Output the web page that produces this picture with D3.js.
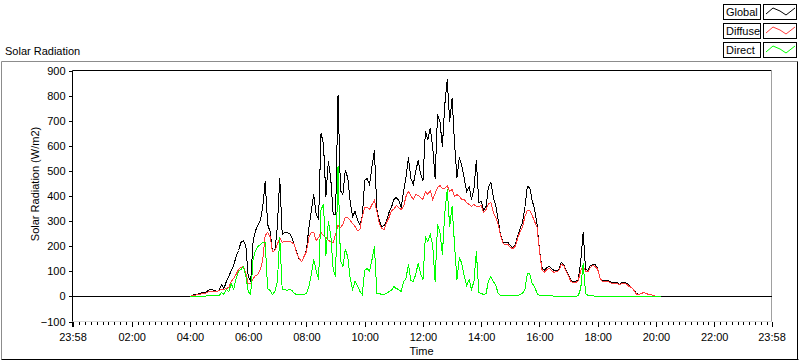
<!DOCTYPE html>
<html>
<head>
<meta charset="utf-8">
<script src="https://cdn.jsdelivr.net/npm/d3@7"></script>
<style>
  html, body { margin: 0; padding: 0; background: #ffffff; }
  svg { display: block; }
  text { font-family: "Liberation Sans", Arial, sans-serif; font-size: 11px; fill: #000; }
</style>
</head>
<body>
<svg id="chart" width="800" height="361"></svg>
<script>
// ---------------- DATA ----------------
const chartTitle = "Solar Radiation";
const yAxisTitle = "Solar Radiation (W/m2)";
const xAxisTitle = "Time";
const seriesNames = ["Global", "Diffuse", "Direct"];

// sampling of the daytime record: every 5 minutes starting 04:00
const startTime = "04:00";
const stepMinutes = 5;

const globalValues = [
  2,5,8,10,12,16,18,22,30,28,24,22,                         // 04:00
  26,50,32,60,80,105,125,160,185,215,225,205,               // 05:00
  80,60,220,265,285,305,360,460,290,260,180,185,            // 06:00
  280,470,250,255,256,252,238,208,175,150,140,160,          // 07:00
  190,276,345,409,330,310,650,610,400,540,470,330,          // 08:00
  330,801,423,409,505,476,380,320,340,310,288,320,          // 09:00
  462,470,449,520,582,350,305,280,285,303,335,356,          // 10:00
  388,396,385,356,420,476,555,470,449,500,542,490,          // 11:00
  462,660,629,670,600,470,728,700,600,768,868,700,          // 12:00
  789,610,476,556,525,470,420,440,390,430,545,376,          // 13:00
  380,343,360,440,456,398,365,305,245,215,217,215,          // 14:00
  203,197,208,240,272,295,355,440,436,383,350,290,          // 15:00
  190,117,106,118,120,112,104,106,110,138,130,105,          // 16:00
  84,66,61,62,70,140,255,110,105,124,130,128,               // 17:00
  115,75,66,64,64,62,57,57,57,51,57,57,                     // 18:00
  52,44,38,27,12,8,12,17,15,11,8,6,                         // 19:00
  3,1,0                                                     // 20:00
];
const diffuseValues = [
  2,4,6,8,10,12,14,17,21,22,22,22,
  24,28,31,35,37,60,75,90,108,118,122,95,
  55,55,75,85,90,110,150,245,255,240,182,185,
  210,237,217,221,221,222,215,208,172,152,142,160,
  180,237,255,255,225,237,255,245,237,225,220,217,
  250,283,276,290,316,316,305,292,280,265,268,320,
  356,356,349,369,383,340,292,272,270,295,318,343,
  349,363,355,349,360,400,420,405,390,409,405,396,
  390,420,409,423,390,410,436,445,430,430,442,420,
  429,400,409,400,390,388,376,369,360,370,362,360,
  366,336,350,374,376,336,318,290,245,212,210,208,
  198,192,202,232,262,278,322,343,346,323,300,276,
  185,110,98,108,112,105,98,100,104,128,124,100,
  80,62,58,58,66,105,122,100,102,118,124,122,
  110,72,63,61,61,59,54,54,54,49,54,54,
  50,42,36,26,11,8,12,16,14,10,8,6,
  3,1,0
];
const directValues = [
  0,1,2,2,2,3,3,4,6,5,4,4,
  6,17,10,30,20,55,30,75,100,110,120,85,
  20,10,150,185,200,210,215,215,35,25,10,20,
  60,235,30,30,25,30,25,15,10,10,10,10,
  15,40,90,150,105,70,350,370,165,300,250,110,
  80,520,145,120,190,160,75,30,60,45,20,10,
  105,115,100,150,200,15,12,10,10,12,20,25,
  40,35,30,20,60,75,130,65,60,90,135,95,
  70,240,220,250,210,60,290,255,170,335,426,280,
  360,210,70,155,135,80,45,70,30,60,180,16,
  14,10,12,65,80,60,45,15,5,4,4,4,
  4,4,5,6,10,15,30,95,95,55,40,14,
  5,5,4,4,4,4,3,3,3,3,3,3,
  3,3,3,3,4,35,135,12,4,4,4,3,
  3,3,2,2,2,2,2,2,2,1,1,1,
  1,1,1,0,0,0,0,0,0,0,0,0,
  0,0,0
];

const yTickValues = [-100, 0, 100, 200, 300, 400, 500, 600, 700, 800, 900];
const xTickLabels = ["23:58","02:00","04:00","06:00","08:00","10:00","12:00",
                     "14:00","16:00","18:00","20:00","22:00","23:58"];

// ---------------- HELPERS ----------------
function toMinutes(label, isEnd) {
  const [h, m] = label.split(":").map(Number);
  let v = h * 60 + m;
  if (label === "23:58") v = isEnd ? v : v - 1440;  // axis runs from 23:58 of previous day
  return v;
}
const xStart = toMinutes(xTickLabels[0], false);
const xEnd = toMinutes(xTickLabels[xTickLabels.length - 1], true);
const t0 = toMinutes(startTime, false);

function seriesPoints(values) {
  return values.map((v, i) => [t0 + i * stepMinutes, v]);
}

// ---------------- LAYOUT ----------------
const svg = d3.select("#chart");
const W = 800, H = 361;
const plot = { left: 72, right: 771, top: 70, bottom: 321 };

const x = d3.scaleLinear().domain([xStart, xEnd]).range([plot.left + 0.5, plot.right + 0.5]);
const y = d3.scaleLinear().domain([-100, 900]).range([plot.bottom + 0.5, plot.top + 0.5]);

// outer frame
svg.append("rect").attr("x", 0).attr("y", 0).attr("width", W).attr("height", H).attr("fill", "#ffffff");
svg.append("line").attr("x1", 1.5).attr("x2", 797.5).attr("y1", 61.5).attr("y2", 61.5).attr("stroke", "#8c8c8c");
svg.append("line").attr("x1", 1.5).attr("x2", 1.5).attr("y1", 61.5).attr("y2", 359.5).attr("stroke", "#8c8c8c");
svg.append("line").attr("x1", 1.5).attr("x2", 798.5).attr("y1", 359.5).attr("y2", 359.5).attr("stroke", "#000");
svg.append("line").attr("x1", 797.5).attr("x2", 797.5).attr("y1", 61.5).attr("y2", 359.5).attr("stroke", "#000");

// chart title
svg.append("text").attr("x", 5).attr("y", 55).text(chartTitle);

// plot frame
svg.append("line").attr("x1", plot.left + 0.5).attr("x2", plot.right + 0.5)
  .attr("y1", plot.top + 0.5).attr("y2", plot.top + 0.5).attr("stroke", "#000");
svg.append("line").attr("x1", plot.right + 0.5).attr("x2", plot.right + 0.5)
  .attr("y1", plot.top + 0.5).attr("y2", plot.bottom + 0.5).attr("stroke", "#a0a0a0");
svg.append("line").attr("x1", plot.left + 0.5).attr("x2", plot.right + 0.5)
  .attr("y1", plot.bottom + 0.5).attr("y2", plot.bottom + 0.5).attr("stroke", "#d8d8d8");

// data lines
const clip = svg.append("clipPath").attr("id", "clip").append("rect")
  .attr("x", plot.left).attr("y", plot.top).attr("width", plot.right - plot.left + 1).attr("height", plot.bottom - plot.top + 1);

const line = d3.line().x(d => x(d[0])).y(d => Math.round(y(d[1])) + 0.5);
const gData = svg.append("g").attr("clip-path", "url(#clip)");

const globalPts = [[xStart, 0]].concat(seriesPoints(globalValues), [[xEnd, 0]]);
const colors = ["#000000", "#ff3c3c", "#00ff00"];

gData.append("path").datum(globalPts).attr("d", line)
  .attr("fill", "none").attr("stroke", colors[0]).attr("stroke-width", 1).attr("shape-rendering", "crispEdges");
gData.append("path").datum(seriesPoints(diffuseValues)).attr("d", line)
  .attr("fill", "none").attr("stroke", colors[1]).attr("stroke-width", 1).attr("shape-rendering", "crispEdges");
gData.append("path").datum(seriesPoints(directValues)).attr("d", line)
  .attr("fill", "none").attr("stroke", colors[2]).attr("stroke-width", 1).attr("shape-rendering", "crispEdges");

// y axis
const yAxis = d3.axisLeft(y).tickValues(yTickValues).tickSize(4).tickPadding(3).tickFormat(d3.format("d"));
const gy = svg.append("g").attr("transform", `translate(${plot.left + 0.5},0)`).call(yAxis);
gy.select(".domain").attr("stroke", "#000").attr("d", `M0,${plot.top + 0.5}V${plot.bottom + 0.5}`);
gy.selectAll(".tick line").attr("stroke", "#000").attr("shape-rendering", "crispEdges");
gy.selectAll(".tick text").attr("font-size", 11).attr("font-family", "Liberation Sans, Arial, sans-serif").attr("fill", "#000");

// x axis minor ticks (every 12 minutes)
const minorTicks = d3.range(0, 1440, 12);
const xMinor = d3.axisBottom(x).tickValues(minorTicks).tickSize(3).tickFormat("");
const gxm = svg.append("g").attr("transform", `translate(0,${plot.bottom + 1})`).call(xMinor);
gxm.select(".domain").remove();
gxm.selectAll(".tick line").attr("stroke", "#000").attr("shape-rendering", "crispEdges");

// x axis major ticks with labels
const majorVals = xTickLabels.map((l, i) => toMinutes(l, i === xTickLabels.length - 1));
const xAxis = d3.axisBottom(x).tickValues(majorVals).tickSize(5).tickPadding(6)
  .tickFormat((d, i) => xTickLabels[i]);
const gx = svg.append("g").attr("transform", `translate(0,${plot.bottom + 1})`).call(xAxis);
gx.select(".domain").remove();
gx.selectAll(".tick line").attr("stroke", "#000").attr("shape-rendering", "crispEdges");
gx.selectAll(".tick text").attr("font-size", 11).attr("font-family", "Liberation Sans, Arial, sans-serif").attr("fill", "#000");
gx.select(".tick line").attr("stroke-width", 2);

// axis titles
svg.append("text").attr("x", (plot.left + plot.right) / 2).attr("y", 355)
  .attr("text-anchor", "middle").text(xAxisTitle);
svg.append("text").attr("transform", "translate(39,184) rotate(-90)")
  .attr("text-anchor", "middle").text(yAxisTitle);

// legend
const leg = svg.append("g");
seriesNames.forEach((name, i) => {
  const yTop = 4 + i * 19;
  leg.append("rect").attr("x", 723.5).attr("y", yTop + 0.5).attr("width", 37).attr("height", 15)
    .attr("fill", "#fff").attr("stroke", "#000").attr("shape-rendering", "crispEdges");
  leg.append("text").attr("x", 726).attr("y", yTop + 12).text(name);
  leg.append("rect").attr("x", 763.5).attr("y", yTop + 0.5).attr("width", 33).attr("height", 15)
    .attr("fill", "#fff").attr("stroke", "#000").attr("shape-rendering", "crispEdges");
  const zig = [[2, 10], [9, 4], [16, 7], [22, 11], [31, 4]].map(p => [764 + p[0], yTop + p[1]]);
  leg.append("path").attr("d", d3.line()(zig)).attr("fill", "none").attr("stroke", colors[i]).attr("stroke-width", 1);
});
</script>
</body>
</html>
